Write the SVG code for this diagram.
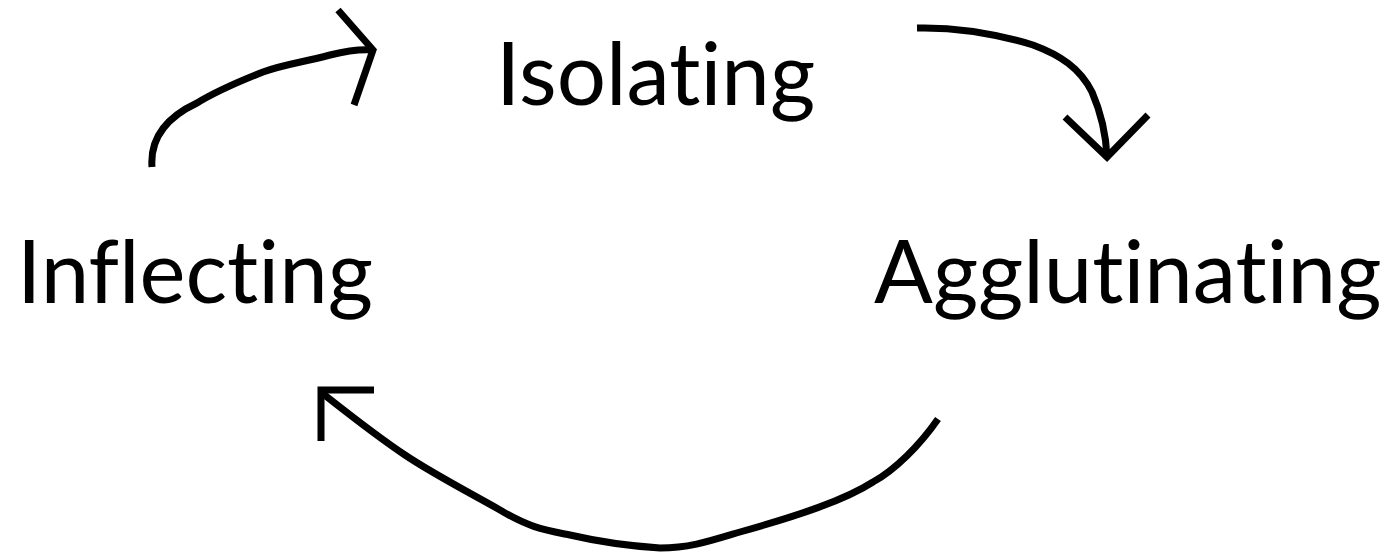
<svg xmlns="http://www.w3.org/2000/svg" width="1387" height="556" viewBox="0 0 1387 556">
<style>
.lbl{font-family:"Lato","Open Sans","Liberation Sans",sans-serif;font-size:87px;fill:#000;font-variant-ligatures:none;font-feature-settings:"liga" 0,"clig" 0}
.arr{fill:none;stroke:#000;stroke-width:7;stroke-linejoin:miter}
</style>
<rect width="1387" height="556" fill="#fff"/>
<g id="isolating"><text class="lbl" x="496" y="105">Isolating</text></g>
<g id="inflecting"><text class="lbl" x="17" y="303">Inflecting</text></g>
<g id="agglutinating"><text class="lbl" x="874" y="303">Agglutinating</text></g>
<g id="connectors">
<path class="arr" d="M152,167 C150,140 165,118 197,103 C215,92 230,85 263,72 C285,64 300,63 330,55 C350,50 362,49 373,50"/>
<path class="arr" d="M338,10 L373,50 L354,105"/>
<path class="arr" d="M917,28 C960,27 1000,35 1033,45 C1060,55 1080,68 1092,92 C1102,115 1106,135 1107,157"/>
<path class="arr" d="M1065,117 L1107,157 L1148,115"/>
<path class="arr" d="M938,419 C920,445 895,470 873,482 C845,500 800,515 740,532 C710,541 690,548 660,548 C630,546 600,542 570,535 C545,530 530,528 500,510 C470,493 430,472 405,455 C375,435 350,415 322,393"/>
<path class="arr" d="M374,390 L321,390 L321,441"/>
</g>
</svg>
